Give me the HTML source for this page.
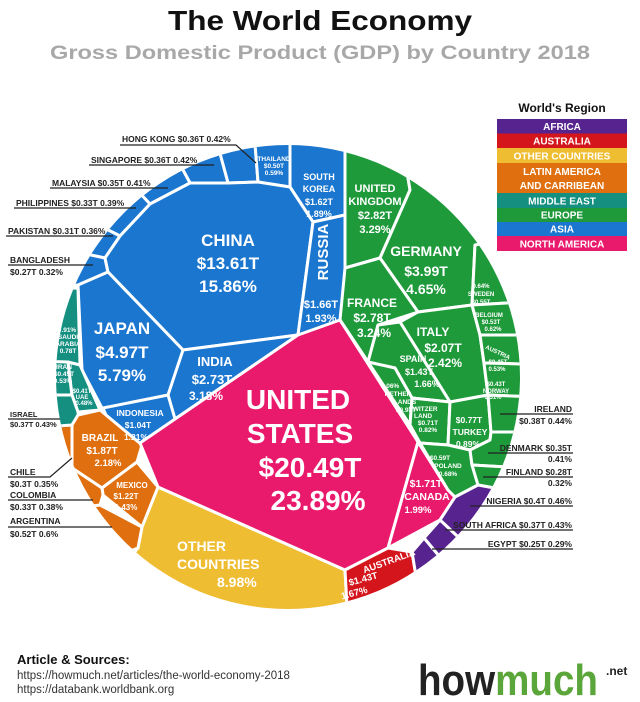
<!DOCTYPE html>
<html><head><meta charset="utf-8"><style>
body{margin:0;background:#fff}
svg{display:block;font-family:"Liberation Sans",sans-serif;font-weight:bold}
.c polygon{stroke:#fff;stroke-width:3;stroke-linejoin:round}
.w{fill:#fff;text-anchor:middle}
.k{fill:#222;font-size:8.5px}
.l{stroke:#222;stroke-width:1.2;fill:none}
</style></head><body>
<svg width="640" height="702" viewBox="0 0 640 702">
<defs><clipPath id="cc"><circle cx="288" cy="377" r="232"/></clipPath></defs>
<text x="320" y="30" font-size="28" text-anchor="middle" fill="#111" textLength="304" lengthAdjust="spacingAndGlyphs">The World Economy</text>
<text x="320" y="59" font-size="19" text-anchor="middle" fill="#a8a8a8" textLength="540" lengthAdjust="spacingAndGlyphs">Gross Domestic Product (GDP) by Country 2018</text>

<g class="c" clip-path="url(#cc)">
<!-- yellow -->
<polygon fill="#efbd32" points="158,487 345,570 350,660 40,660 138,548 142,527"/>
<!-- blue -->
<g fill="#1a76cf">
<polygon points="258,182 250,80 200,80 228,183"/>
<polygon points="258,182 290,187 290,80 250,80"/>
<polygon points="290,187 290,80 345,80 345,215 313,222"/>
<polygon points="228,183 200,80 140,90 190,183"/>
<polygon points="190,183 140,90 90,140 150,204"/>
<polygon points="150,204 90,140 30,190 120,236"/>
<polygon points="120,236 30,190 20,240 105,258"/>
<polygon points="105,258 20,240 20,290 78,285 108,272"/>
<polygon points="108,272 183,350 298,335 313,222 290,187 258,182 228,183 190,183 150,204 120,236 105,258"/>
<polygon points="313,222 345,215 345,320 298,335"/>
<polygon points="78,285 108,272 183,350 170,398 103,410 82,370"/>
<polygon points="183,350 298,335 175,419 168,395"/>
<polygon points="103,408 168,395 175,419 142,445 112,430"/>
</g>
<!-- teal -->
<g fill="#148f80">
<polygon points="0,290 78,288 80,365 0,360"/>
<polygon points="0,360 68,362 72,395 0,395"/>
<polygon points="68,362 80,365 100,410 78,412 72,395"/>
<polygon points="0,395 72,395 78,412 80,428 0,430"/>
</g>
<!-- orange -->
<g fill="#e0700f">
<polygon points="78,415 100,410 142,445 137,462 102,488 72,468 72,425"/>
<polygon points="137,462 158,487 142,527 103,495 102,488"/>
<polygon points="0,430 72,425 72,468 0,480"/>
<polygon points="0,480 72,468 102,488 103,495 100,505 0,520"/>
<polygon points="0,520 100,505 142,527 138,548 0,600"/>
</g>
<!-- pink -->
<g fill="#e9196c">
<polygon points="140,443 298,335 340,320 418,442 388,548 345,570 158,487"/>
<polygon points="418,442 448,490 455,497 440,520 388,548"/>
</g>
<!-- red -->
<polygon fill="#d4151c" points="345,570 388,548 412,552 430,660 350,660"/>
<!-- green -->
<g fill="#1f9a3b">
<polygon points="345,100 395,100 410,190 380,258 345,268"/>
<polygon points="395,100 560,100 560,240 475,245 472,305 418,312 380,258 410,190"/>
<polygon points="345,268 380,258 418,312 378,325 368,362 340,320"/>
<polygon points="418,312 472,305 480,335 484,363 488,395 450,402 400,322"/>
<polygon points="368,362 378,325 400,322 450,402 412,398 395,368"/>
<polygon points="368,362 395,368 412,398 410,425 340,320"/>
<polygon points="412,398 450,402 448,445 420,443 410,425"/>
<polygon points="450,402 488,395 491,432 490,440 470,450 448,445"/>
<polygon points="420,443 448,445 470,450 472,465 478,485 455,497 448,490"/>
<polygon points="475,245 560,230 560,300 472,305"/>
<polygon points="472,305 560,300 560,335 480,335"/>
<polygon points="480,335 560,335 560,365 484,363"/>
<polygon points="484,363 560,365 560,398 488,395"/>
<polygon points="488,395 560,398 560,432 491,432"/>
<polygon points="491,432 560,432 560,470 472,465 470,450 490,440"/>
<polygon points="472,465 560,470 560,500 478,485"/>
</g>
<!-- purple -->
<g fill="#57238e">
<polygon points="455,497 478,485 560,500 560,560 520,595 440,520"/>
<polygon points="440,520 520,595 480,605 424,538"/>
<polygon points="424,538 480,605 430,660 412,552"/>
</g>
</g>

<!-- cell labels -->
<g class="w">
<text x="228" y="246" font-size="17">CHINA</text>
<text x="228" y="269" font-size="17">$13.61T</text>
<text x="228" y="292" font-size="17">15.86%</text>
<text x="122" y="334" font-size="17">JAPAN</text>
<text x="122" y="358" font-size="17">$4.97T</text>
<text x="122" y="381" font-size="17">5.79%</text>
<text x="215" y="366" font-size="13">INDIA</text>
<text x="212" y="384" font-size="13">$2.73T</text>
<text x="206" y="400" font-size="12">3.18%</text>
<text x="298" y="409" font-size="28">UNITED</text>
<text x="300" y="443" font-size="28">STATES</text>
<text x="310" y="477" font-size="28">$20.49T</text>
<text x="318" y="510" font-size="28">23.89%</text>
<text x="140" y="416" font-size="8.5">INDONESIA</text>
<text x="138" y="428" font-size="8.5">$1.04T</text>
<text x="136" y="440" font-size="8.5">1.21%</text>
<text x="0" y="0" font-size="15" transform="translate(328,252) rotate(-90)">RUSSIA</text>
<text x="321" y="308" font-size="11">$1.66T</text>
<text x="321" y="322" font-size="11">1.93%</text>
<text x="319" y="180" font-size="9">SOUTH</text>
<text x="319" y="192" font-size="9">KOREA</text>
<text x="319" y="205" font-size="9">$1.62T</text>
<text x="319" y="217" font-size="9">1.89%</text>
<text x="274" y="161" font-size="6.5">THAILAND</text>
<text x="274" y="168" font-size="6.5">$0.50T</text>
<text x="274" y="175" font-size="6.5">0.59%</text>
<text x="375" y="192" font-size="11">UNITED</text>
<text x="375" y="205" font-size="11">KINGDOM</text>
<text x="375" y="219" font-size="11">$2.82T</text>
<text x="375" y="233" font-size="11">3.29%</text>
<text x="426" y="256" font-size="14">GERMANY</text>
<text x="426" y="276" font-size="14">$3.99T</text>
<text x="426" y="294" font-size="14">4.65%</text>
<text x="372" y="307" font-size="12">FRANCE</text>
<text x="372" y="322" font-size="12">$2.78T</text>
<text x="374" y="337" font-size="12">3.24%</text>
<text x="433" y="336" font-size="12">ITALY</text>
<text x="443" y="352" font-size="12">$2.07T</text>
<text x="445" y="367" font-size="12">2.42%</text>
<text x="413" y="362" font-size="9">SPAIN</text>
<text x="419" y="375" font-size="9">$1.43T</text>
<text x="427" y="387" font-size="9">1.66%</text>
<text x="390" y="388" font-size="6.5">1.06%</text>
<text x="398" y="396" font-size="6.5">NETHER</text>
<text x="405" y="404" font-size="6.5">LANDS</text>
<text x="406" y="412" font-size="6.5">$0.91T</text>
<text x="423" y="411" font-size="6.5">SWITZER</text>
<text x="423" y="418" font-size="6.5">LAND</text>
<text x="428" y="425" font-size="6.5">$0.71T</text>
<text x="428" y="432" font-size="6.5">0.82%</text>
<text x="469" y="423" font-size="8.5">$0.77T</text>
<text x="470" y="435" font-size="8.5">TURKEY</text>
<text x="468" y="447" font-size="8.5">0.89%</text>
<text x="440" y="460" font-size="6.5">$0.59T</text>
<text x="448" y="468" font-size="6.5">POLAND</text>
<text x="448" y="476" font-size="6.5">0.68%</text>
<text x="426" y="487" font-size="10.5">$1.71T</text>
<text x="427" y="500" font-size="10.5">CANADA</text>
<text x="418" y="513" font-size="9.5">1.99%</text>
<text x="0" y="0" font-size="9.5" transform="translate(390,564) rotate(-20)">AUSTRALIA</text>
<text x="364" y="582" font-size="9.5" transform="rotate(-15 364 582)">$1.43T</text>
<text x="355" y="596" font-size="9.5" transform="rotate(-15 355 596)">1.67%</text>
<text x="177" y="551" font-size="14" text-anchor="start">OTHER</text>
<text x="177" y="569" font-size="14" text-anchor="start">COUNTRIES</text>
<text x="217" y="587" font-size="14" text-anchor="start">8.98%</text>
<text x="100" y="441" font-size="10">BRAZIL</text>
<text x="102" y="454" font-size="10">$1.87T</text>
<text x="108" y="466" font-size="9.5">2.18%</text>
<text x="132" y="488" font-size="8">MEXICO</text>
<text x="126" y="499" font-size="8">$1.22T</text>
<text x="126" y="510" font-size="8">1.43%</text>
<text x="67" y="332" font-size="6.5">0.91%</text>
<text x="68" y="339" font-size="6.5">SAUDI</text>
<text x="68" y="346" font-size="6.5">ARABIA</text>
<text x="68" y="353" font-size="6.5">0.78T</text>
<text x="64" y="369" font-size="6.5">IRAN</text>
<text x="64" y="376" font-size="6.5">$0.45T</text>
<text x="63" y="383" font-size="6.5">0.53%</text>
<text x="82" y="393" font-size="6">$0.41T</text>
<text x="82" y="399" font-size="6">UAE</text>
<text x="84" y="405" font-size="6">0.48%</text>
<text x="481" y="288" font-size="6">0.64%</text>
<text x="481" y="296" font-size="6">SWEDEN</text>
<text x="481" y="304" font-size="6">$0.55T</text>
<text x="489" y="317" font-size="6">BELGIUM</text>
<text x="491" y="324" font-size="6">$0.53T</text>
<text x="493" y="331" font-size="6">0.62%</text>
<text x="0" y="0" font-size="6" transform="translate(497,354) rotate(25)">AUSTRIA</text>
<text x="498" y="364" font-size="6">$0.45T</text>
<text x="497" y="371" font-size="6">0.53%</text>
<text x="496" y="386" font-size="6">$0.43T</text>
<text x="496" y="393" font-size="6">NORWAY</text>
<text x="493" y="399" font-size="6">0.51%</text>
</g>

<!-- annotations -->
<g class="k">
<text x="122" y="142">HONG KONG $0.36T 0.42%</text>
<text x="91" y="163">SINGAPORE $0.36T 0.42%</text>
<text x="52" y="186">MALAYSIA $0.35T 0.41%</text>
<text x="16" y="206">PHILIPPINES $0.33T 0.39%</text>
<text x="8" y="234">PAKISTAN $0.31T 0.36%</text>
<text x="10" y="263">BANGLADESH</text>
<text x="10" y="275">$0.27T 0.32%</text>
<text x="10" y="417" font-size="7.5">ISRAEL</text>
<text x="10" y="427" font-size="7.5">$0.37T 0.43%</text>
<text x="10" y="475">CHILE</text>
<text x="10" y="487">$0.3T 0.35%</text>
<text x="10" y="498">COLOMBIA</text>
<text x="10" y="510">$0.33T 0.38%</text>
<text x="10" y="524">ARGENTINA</text>
<text x="10" y="537">$0.52T 0.6%</text>
<text x="572" y="412" text-anchor="end">IRELAND</text>
<text x="572" y="424" text-anchor="end">$0.38T 0.44%</text>
<text x="572" y="451" text-anchor="end">DENMARK $0.35T</text>
<text x="572" y="462" text-anchor="end">0.41%</text>
<text x="572" y="475" text-anchor="end">FINLAND $0.28T</text>
<text x="572" y="486" text-anchor="end">0.32%</text>
<text x="572" y="504" text-anchor="end">NIGERIA $0.4T 0.46%</text>
<text x="572" y="528" text-anchor="end">SOUTH AFRICA $0.37T 0.43%</text>
<text x="572" y="547" text-anchor="end">EGYPT $0.25T 0.29%</text>
</g>
<g class="l">
<polyline points="120,145 236,145 256,163"/>
<line x1="89" y1="165" x2="214" y2="165"/>
<line x1="50" y1="188" x2="168" y2="188"/>
<line x1="14" y1="208" x2="136" y2="208"/>
<line x1="6" y1="236" x2="113" y2="236"/>
<line x1="8" y1="265" x2="93" y2="265"/>
<line x1="8" y1="419" x2="60" y2="419"/>
<polyline points="8,477 50,477 72,458"/>
<line x1="8" y1="500" x2="93" y2="500"/>
<line x1="8" y1="527" x2="112" y2="527"/>
<line x1="500" y1="414" x2="573" y2="414"/>
<line x1="488" y1="453" x2="573" y2="453"/>
<line x1="483" y1="477" x2="573" y2="477"/>
<line x1="470" y1="506" x2="573" y2="506"/>
<line x1="445" y1="530" x2="573" y2="530"/>
<line x1="432" y1="549" x2="573" y2="549"/>
</g>

<!-- legend -->
<text x="562" y="112" font-size="12" text-anchor="middle" fill="#111">World's Region</text>
<rect x="497" y="119" width="130" height="14.5" fill="#57238e"/>
<rect x="497" y="133.5" width="130" height="14.5" fill="#d4151c"/>
<rect x="497" y="148" width="130" height="15" fill="#efbd32"/>
<rect x="497" y="163" width="130" height="30" fill="#e0700f"/>
<rect x="497" y="193" width="130" height="15" fill="#148f80"/>
<rect x="497" y="208" width="130" height="14" fill="#1f9a3b"/>
<rect x="497" y="222" width="130" height="14" fill="#1a76cf"/>
<rect x="497" y="236" width="130" height="15" fill="#e9196c"/>
<g class="w" font-size="10">
<text x="562" y="130">AFRICA</text>
<text x="562" y="144.5">AUSTRALIA</text>
<text x="562" y="159.5">OTHER COUNTRIES</text>
<text x="562" y="175">LATIN AMERICA</text>
<text x="562" y="189">AND CARRIBEAN</text>
<text x="562" y="204.5">MIDDLE EAST</text>
<text x="562" y="218.5">EUROPE</text>
<text x="562" y="232.5">ASIA</text>
<text x="562" y="247.5">NORTH AMERICA</text>
</g>

<!-- footer -->
<text x="17" y="664" font-size="13" fill="#111">Article &amp; Sources:</text>
<text x="17" y="679" font-size="11.5" fill="#333" style="font-weight:normal">https://howmuch.net/articles/the-world-economy-2018</text>
<text x="17" y="693" font-size="11.5" fill="#333" style="font-weight:normal">https://databank.worldbank.org</text>
<text x="418" y="695" font-size="44" fill="#222" textLength="180" lengthAdjust="spacingAndGlyphs">how<tspan fill="#5ba63a">much</tspan></text>
<text x="606" y="675" font-size="12" fill="#222">.net</text>
</svg>
</body></html>
